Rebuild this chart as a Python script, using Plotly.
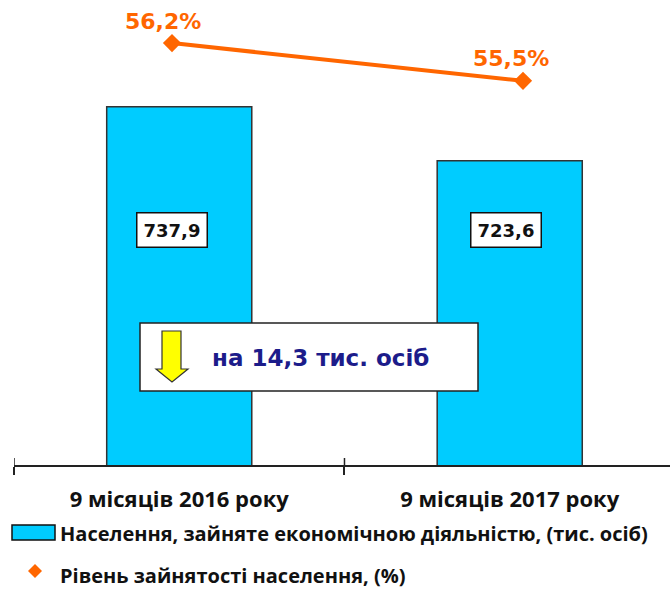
import plotly.graph_objects as go

# Data
periods = ["9 місяців 2016 року", "9 місяців 2017 року"]
employed_thousands = [737.9, 723.6]          # тис. осіб
employment_rate = [56.2, 55.5]               # %
change_text = "на 14,3 тис. осіб"
bar_legend = "Населення, зайняте економічною діяльністю, (тис. осіб)"
line_legend = "Рівень зайнятості населення, (%)"

W, H = 670, 589
ML, MR, MT, MB = 14, 0, 0, 124
PW, PH = W - ML - MR, H - MT - MB

BAR_COLOR = "#00CCFF"
LINE_COLOR = "#FF6600"
BOX_FONT = "DejaVu Sans"
TEXT_FONT = "Open Sans"


def px(x):
    """Horizontal pixel position -> paper coordinate."""
    return (x - ML) / PW


def py(y):
    """Vertical pixel position -> paper coordinate."""
    return (H - MB - y) / PH


def fmt(v, suffix=""):
    return f"{v:.1f}".replace(".", ",") + suffix


fig = go.Figure()

fig.add_trace(go.Bar(
    x=periods, y=employed_thousands, width=0.439,
    marker=dict(color=BAR_COLOR, line=dict(color="#333333", width=1.5)),
    showlegend=False, hoverinfo="skip",
))

fig.add_trace(go.Scatter(
    x=list(range(len(employment_rate))), y=employment_rate,
    xaxis="x2", yaxis="y2", mode="lines+markers",
    line=dict(color=LINE_COLOR, width=4),
    marker=dict(symbol="diamond", size=14, color=LINE_COLOR),
    showlegend=False, hoverinfo="skip",
))

annotations = []
shapes = []

# value boxes on the bars
for i, (p, v) in enumerate(zip(periods, employed_thousands)):
    annotations.append(dict(
        x=p, xref="x", y=py(230), yref="paper", text=fmt(v),
        xanchor="center", yanchor="middle",
        showarrow=False, xshift=[-7, -4][i],
        font=dict(family=BOX_FONT, size=18, color="#111111", weight=700),
        bgcolor="white", bordercolor="#111111", borderwidth=1.5, borderpad=6,
    ))

# percentage labels above the line markers
for i, v in enumerate(employment_rate):
    annotations.append(dict(
        x=i, xref="x2", y=v, yref="y2", text=fmt(v, "%"),
        xanchor="center", yanchor="middle",
        showarrow=False, xshift=[-9, -12][i], yshift=22,
        font=dict(family=BOX_FONT, size=22, color=LINE_COLOR, weight=700),
    ))

# change callout box with down arrow
shapes.append(dict(
    type="rect", xref="paper", yref="paper",
    x0=px(140), x1=px(478), y0=py(391), y1=py(323),
    fillcolor="white", line=dict(color="#222222", width=1.5), layer="above",
))
arrow_pts = [(162, 331), (181, 331), (181, 369), (188, 369),
             (172, 382), (156, 369), (162, 369)]
path = "M " + " L ".join(f"{px(x):.5f},{py(y):.5f}" for x, y in arrow_pts) + " Z"
shapes.append(dict(
    type="path", xref="paper", yref="paper", path=path,
    fillcolor="#FFFF00", line=dict(color="#333333", width=1.2), layer="above",
))
annotations.append(dict(
    x=px(320), y=py(358), xref="paper", yref="paper", text=change_text,
    xanchor="center", yanchor="middle", showarrow=False,
    font=dict(family=BOX_FONT, size=23, color="#1C1C8A", weight=700),
))

# upper half of the crossing ticks on the category axis
for b in (-0.5, 0.5, 1.5):
    shapes.append(dict(
        type="line", xref="x", yref="paper", x0=b, x1=b,
        ysizemode="pixel", yanchor=0, y0=0, y1=7,
        line=dict(color="#222222", width=1.5),
    ))

# legend
shapes.append(dict(
    type="rect", xref="paper", yref="paper",
    x0=px(12), x1=px(55), y0=py(540), y1=py(525),
    fillcolor=BAR_COLOR, line=dict(color="#111111", width=1.5),
))
cx, cy, r = 35, 571, 7
diamond = [(cx, cy - r), (cx + r, cy), (cx, cy + r), (cx - r, cy)]
shapes.append(dict(
    type="path", xref="paper", yref="paper",
    path="M " + " L ".join(f"{px(x):.5f},{py(y):.5f}" for x, y in diamond) + " Z",
    fillcolor=LINE_COLOR, line=dict(color=LINE_COLOR, width=0),
))
for text, y in ((bar_legend, 533), (line_legend, 575)):
    annotations.append(dict(
        x=px(58), y=py(y), xref="paper", yref="paper", text=text,
        xanchor="left", yanchor="middle", showarrow=False,
        font=dict(family=TEXT_FONT, size=20, color="#111111", weight=700),
    ))

fig.update_layout(
    width=W, height=H,
    margin=dict(l=ML, r=MR, t=MT, b=MB),
    paper_bgcolor="white", plot_bgcolor="white",
    showlegend=False,
    xaxis=dict(
        type="category", range=[-0.5, 1.485],
        showline=True, linecolor="#222222", linewidth=1.5,
        ticks="outside", tickson="boundaries", ticklen=8, tickwidth=1.5,
        tickcolor="#222222", ticklabelstandoff=14,
        tickfont=dict(family=TEXT_FONT, size=22, color="#111111", weight=700),
        showgrid=False, zeroline=False,
    ),
    yaxis=dict(range=[643.0, 766.2], visible=False, showgrid=False),
    xaxis2=dict(overlaying="x", range=[-0.4501, 1.4188], visible=False),
    yaxis2=dict(overlaying="y", side="right", range=[48.37, 57.0],
                visible=False, showgrid=False),
    annotations=annotations,
    shapes=shapes,
)

fig.write_html("out.html")
